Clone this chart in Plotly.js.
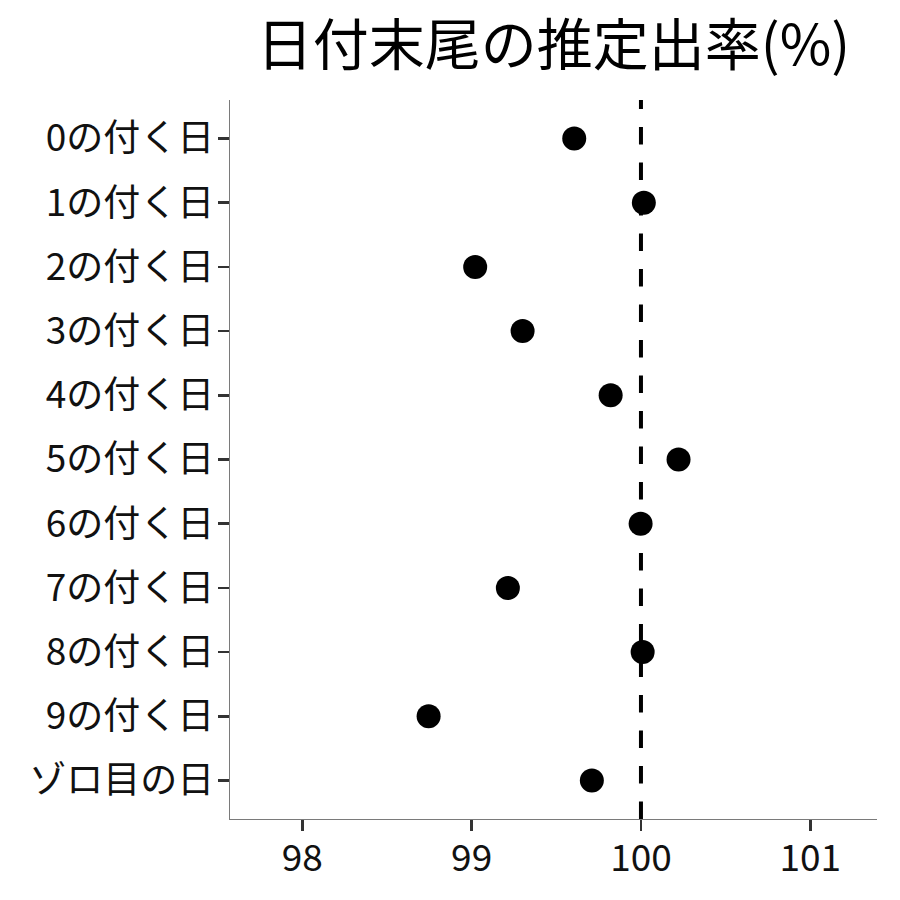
<!DOCTYPE html>
<html>
<head>
<meta charset="utf-8">
<script src="https://cdn.plot.ly/plotly-3.0.1.min.js"></script>
<style>html,body{margin:0;padding:0;background:#fff;}#chart{width:900px;height:900px;}</style>
</head>
<body>
<div id="chart"></div>
<script>
const categories = ["0の付く日","1の付く日","2の付く日","3の付く日","4の付く日","5の付く日","6の付く日","7の付く日","8の付く日","9の付く日","ゾロ目の日"];
const rates = [99.606, 100.017, 99.021, 99.301, 99.821, 100.222, 99.998, 99.214, 100.010, 98.746, 99.710];
const xTicks = [98, 99, 100, 101];
const refLine = 100;
const titleText = "日付末尾の推定出率(%)";

const font = '"Noto Sans CJK JP", "Noto Sans CJK SC", sans-serif';

const trace = {
  type: 'scatter',
  mode: 'markers',
  x: rates,
  y: categories,
  marker: {color: '#000', size: 24, line: {width: 0}},
  hoverinfo: 'x+y'
};

const layout = {
  width: 900, height: 900,
  margin: {l: 230, r: 23, t: 100, b: 81, pad: 0},
  paper_bgcolor: '#fff', plot_bgcolor: '#fff',
  showlegend: false,
  font: {family: font, color: '#000'},
  title: {
    text: titleText,
    font: {family: font, size: 56, color: '#000'},
    x: 0.5, xref: 'paper', xanchor: 'center',
    y: 1 - 45/900, yref: 'container', yanchor: 'middle'
  },
  xaxis: {
    range: [97.573, 101.394],
    tickvals: xTicks,
    ticktext: xTicks.map(String),
    ticks: 'outside', ticklen: 11, tickwidth: 2.5, tickcolor: '#333',
    ticklabelstandoff: -5,
    showline: true, linecolor: '#7a7a7a', linewidth: 1.3,
    showgrid: false, zeroline: false,
    tickfont: {family: font, size: 37, color: '#111'}
  },
  yaxis: {
    type: 'category',
    categoryorder: 'array', categoryarray: categories,
    range: [10.6, -0.6],
    ticks: 'outside', ticklen: 11, tickwidth: 2.5, tickcolor: '#333',
    ticklabelstandoff: -4,
    showline: true, linecolor: '#7a7a7a', linewidth: 1.3,
    showgrid: false, zeroline: false,
    tickfont: {family: font, size: 37, color: '#111'}
  },
  shapes: [{
    type: 'line', xref: 'x', yref: 'y domain',
    x0: refLine, x1: refLine, y0: 0, y1: 1,
    line: {color: '#000', width: 4, dash: '17.5px,18px'},
    layer: 'above'
  }]
};

Plotly.newPlot('chart', [trace], layout, {displayModeBar: false, staticPlot: true});
</script>
</body>
</html>
